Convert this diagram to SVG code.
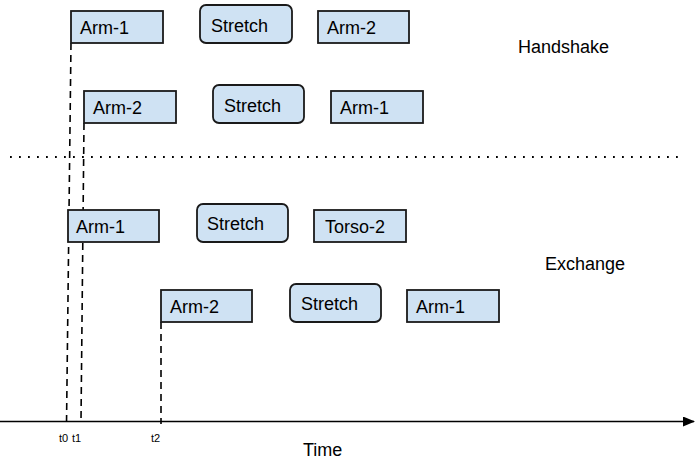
<svg xmlns="http://www.w3.org/2000/svg" width="697" height="459" viewBox="0 0 697 459">
<style>
.box{fill:#cfe2f3;stroke:#1a1a1a;stroke-width:1.8}
.lbl{font-family:"Liberation Sans",Arial,sans-serif;font-size:18px;fill:#000}
.big{font-family:"Liberation Sans",Arial,sans-serif;font-size:18px;fill:#000}
.tk{font-family:"Liberation Sans",Arial,sans-serif;font-size:11px;fill:#000}
.dash{stroke:#000;stroke-width:1.6;stroke-dasharray:7,5;fill:none}
</style>
<defs>
<marker id="arr" markerWidth="12" markerHeight="10" refX="11" refY="5" orient="auto" markerUnits="userSpaceOnUse">
<path d="M0,0 L12,5 L0,10 Z" fill="#000"/>
</marker>
</defs>
<rect width="697" height="459" fill="#fff"/>
<g id="connectors">
<line x1="0" y1="421.5" x2="694" y2="421.5" stroke="#000" stroke-width="1.6" marker-end="url(#arr)"/>
<line x1="10" y1="157" x2="680" y2="157" stroke="#000" stroke-width="1.8" stroke-dasharray="1.8,7.2"/>
<line class="dash" x1="71" y1="43" x2="66.5" y2="425"/>
<line class="dash" x1="84" y1="123" x2="81" y2="421"/>
<line class="dash" x1="161" y1="322" x2="161" y2="424"/>
</g>
<g id="r1-arm1"><rect class="box" x="71" y="11" width="92" height="32"/><text class="lbl" x="80" y="34">Arm-1</text></g>
<g id="r1-stretch"><rect class="box" x="200" y="5" width="92" height="38" rx="6"/><text class="lbl" x="211" y="32">Stretch</text></g>
<g id="r1-arm2"><rect class="box" x="318" y="11" width="91" height="32"/><text class="lbl" x="327" y="34">Arm-2</text></g>
<g id="r2-arm2"><rect class="box" x="84" y="91" width="92" height="32"/><text class="lbl" x="93" y="114">Arm-2</text></g>
<g id="r2-stretch"><rect class="box" x="213" y="85" width="91" height="38" rx="6"/><text class="lbl" x="224" y="112">Stretch</text></g>
<g id="r2-arm1"><rect class="box" x="331" y="91" width="92" height="32"/><text class="lbl" x="340" y="114">Arm-1</text></g>
<g id="r3-arm1"><rect class="box" x="68" y="210" width="91" height="32"/><text class="lbl" x="76" y="233">Arm-1</text></g>
<g id="r3-stretch"><rect class="box" x="197" y="204" width="91" height="38" rx="6"/><text class="lbl" x="207" y="230">Stretch</text></g>
<g id="r3-torso2"><rect class="box" x="314" y="210" width="92" height="32"/><text class="lbl" x="325" y="233">Torso-2</text></g>
<g id="r4-arm2"><rect class="box" x="161" y="290" width="91" height="32"/><text class="lbl" x="170" y="313">Arm-2</text></g>
<g id="r4-stretch"><rect class="box" x="290" y="284" width="91" height="38" rx="6"/><text class="lbl" x="301" y="310">Stretch</text></g>
<g id="r4-arm1"><rect class="box" x="407" y="290" width="92" height="32"/><text class="lbl" x="416" y="313">Arm-1</text></g>
<g id="labels">
<text class="big" x="518" y="53">Handshake</text>
<text class="big" x="545" y="270">Exchange</text>
<text class="big" x="303" y="456">Time</text>
<text class="tk" x="59" y="442">t0</text>
<text class="tk" x="72" y="442">t1</text>
<text class="tk" x="151" y="442">t2</text>
</g>
</svg>
